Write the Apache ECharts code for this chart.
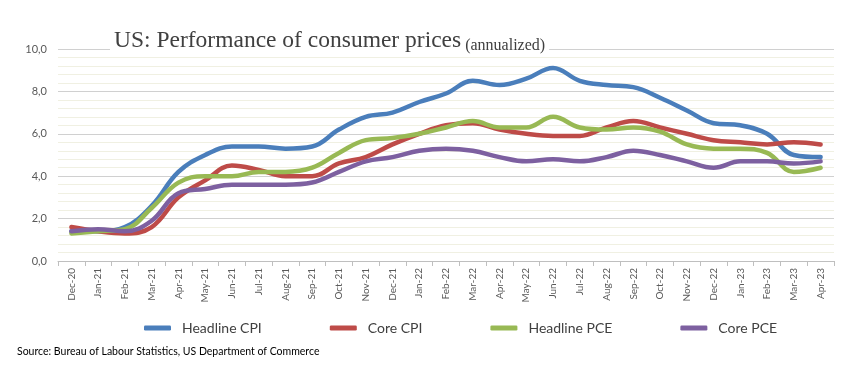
<!DOCTYPE html>
<html>
<head>
<meta charset="utf-8">
<script src="https://cdn.jsdelivr.net/npm/echarts@6/dist/echarts.min.js"></script>
<style>html,body{margin:0;padding:0;background:#fff}#c{width:849px;height:381px}</style>
</head>
<body>
<div id="c"></div>
<script>
const categories = ['Dec-20','Jan-21','Feb-21','Mar-21','Apr-21','May-21','Jun-21','Jul-21','Aug-21','Sep-21','Oct-21','Nov-21','Dec-21','Jan-22','Feb-22','Mar-22','Apr-22','May-22','Jun-22','Jul-22','Aug-22','Sep-22','Oct-22','Nov-22','Dec-22','Jan-23','Feb-23','Mar-23','Apr-23'];
const headlineCPI = [1.4,1.4,1.6,2.6,4.2,5.0,5.4,5.4,5.3,5.4,6.2,6.8,7.0,7.5,7.9,8.5,8.3,8.6,9.1,8.5,8.3,8.2,7.7,7.1,6.5,6.4,6.0,5.0,4.9];
const coreCPI = [1.6,1.4,1.3,1.6,3.0,3.8,4.5,4.3,4.0,4.0,4.6,4.9,5.5,6.0,6.4,6.5,6.2,6.0,5.9,5.9,6.3,6.6,6.3,6.0,5.7,5.6,5.5,5.6,5.5];
const headlinePCE = [1.3,1.4,1.5,2.5,3.7,4.0,4.0,4.2,4.2,4.4,5.1,5.7,5.8,6.0,6.3,6.6,6.3,6.3,6.8,6.3,6.2,6.3,6.1,5.5,5.3,5.3,5.1,4.2,4.4];
const corePCE = [1.4,1.5,1.4,1.9,3.2,3.4,3.6,3.6,3.6,3.7,4.2,4.7,4.9,5.2,5.3,5.2,4.9,4.7,4.8,4.7,4.9,5.2,5.0,4.7,4.4,4.7,4.7,4.6,4.7];
const seriesNames = ['Headline CPI','Core CPI','Headline PCE','Core PCE'];
const yTicks = [0,2,4,6,8,10];

const colors = ['#4a7ebb','#be4b48','#98b954','#7d60a0'];
const legendTextWidths = [76, 51, 79, 55];
const chart = echarts.init(document.getElementById('c'));
const mk = (name, data, color) => ({
  name, type: 'line', data, smooth: 0.4, symbol: 'none',
  lineStyle: {width: 4.5, color, cap: 'round'}, itemStyle: {color}
});
chart.setOption({
  animation: false,
  title: [{
    text: '{a|US: Performance of consumer prices} {b|(annualized)}',
    left: 110, top: 28, padding: [0, 4, 0, 4],
    backgroundColor: '#fff',
    textStyle: {fontFamily: 'Liberation Serif', fontSize: 16, fontWeight: 'normal', color: '#404040',
      rich: {
        a: {fontFamily: 'Liberation Serif', fontSize: 23.5, fontWeight: 'normal', lineHeight: 26, color: '#404040'},
        b: {fontFamily: 'Liberation Serif', fontSize: 16, fontWeight: 'normal', lineHeight: 26, verticalAlign: 'bottom', color: '#404040'}
      }}
  }, {
    text: 'Source: Bureau of Labour Statistics, US Department of Commerce',
    left: 17, top: 346, padding: 0,
    textStyle: {fontFamily: 'Lato', fontSize: 10.5, fontWeight: 'normal', color: '#000'}
  }],
  legend: {
    data: seriesNames.map((n, i) => ({name: n, textStyle: {width: legendTextWidths[i], overflow: 'none'}})),
    left: 144, top: 321, padding: 0, itemWidth: 27, itemHeight: 5, itemGap: 68,
    icon: 'roundRect',
    textStyle: {fontFamily: 'Lato', fontSize: 14, color: '#404040', padding: [0, 0, 0, 6]}
  },
  grid: {left: 58, right: 15, top: 49, bottom: 120},
  xAxis: {
    type: 'category', data: categories, boundaryGap: true,
    axisLine: {lineStyle: {color: '#bfbfbf', width: 1}},
    axisTick: {show: true, length: 5, lineStyle: {color: '#bfbfbf'}},
    axisLabel: {rotate: 90, margin: 7, interval: 0, fontFamily: 'Lato', fontSize: 10, color: '#595959'}
  },
  yAxis: {
    type: 'value', min: 0, max: 10, interval: 2,
    axisLine: {show: false}, axisTick: {show: false},
    axisLabel: {margin: 11, fontFamily: 'Lato', fontSize: 11, color: '#595959',
      formatter: v => yTicks.includes(v) ? v.toFixed(1).replace('.', ',') : ''},
    splitLine: {lineStyle: {color: '#d0d0d0', width: 1}},
    minorTick: {show: false, splitNumber: 5},
    minorSplitLine: {show: true, lineStyle: {color: '#f0f0e2', width: 1}}
  },
  series: [
    mk(seriesNames[0], headlineCPI, colors[0]),
    mk(seriesNames[1], coreCPI, colors[1]),
    mk(seriesNames[2], headlinePCE, colors[2]),
    mk(seriesNames[3], corePCE, colors[3])
  ]
});
</script>
</body>
</html>
